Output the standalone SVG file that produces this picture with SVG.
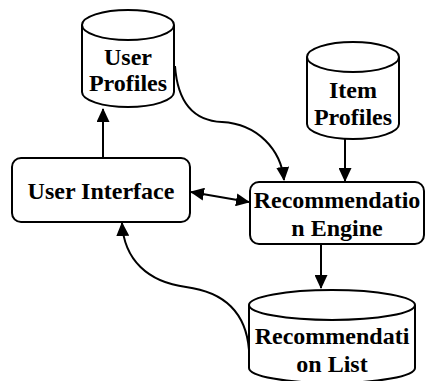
<svg xmlns="http://www.w3.org/2000/svg" width="426" height="381" viewBox="0 0 426 381">
  <style>
    .shape { fill: #ffffff; stroke: #000000; stroke-width: 2; }
    .edge { fill: none; stroke: #000000; stroke-width: 2; }
    .label { font-weight: 700; font-size: 24px; fill: #000000; text-anchor: middle; }
  </style>
  <defs>
    <marker id="arrow" viewBox="0 0 14 13" refX="13" refY="6.5" markerWidth="14" markerHeight="13" markerUnits="userSpaceOnUse" orient="auto-start-reverse">
      <path d="M0,0 L14,6.5 L0,13 Z" fill="#000000"/>
    </marker>
  </defs>
  <rect width="426" height="381" fill="#ffffff"/>

  <!-- connectors -->
  <g id="connectors">
    <path class="edge" d="M103,158 L103,109" marker-end="url(#arrow)"/>
    <path class="edge" d="M175,66 C178,108 198,121 222,122 C258,124 281,150 284,180" marker-end="url(#arrow)"/>
    <path class="edge" d="M345,139 L345,181" marker-end="url(#arrow)"/>
    <path class="edge" d="M191,192 L249,202" marker-start="url(#arrow)" marker-end="url(#arrow)"/>
    <path class="edge" d="M321,244 L321,288" marker-end="url(#arrow)"/>
    <path class="edge" d="M249,350 C246,312 224,292 186,287 C148,282 124,260 122,223" marker-end="url(#arrow)"/>
  </g>

  <g font-family="Liberation Serif, Times New Roman, serif">
  <!-- User Profiles (store) -->
  <g id="user-profiles">
    <path class="shape" d="M82,25 L82,92 A46,15 0 0 0 174,92 L174,25"/>
    <ellipse class="shape" cx="128" cy="25" rx="46" ry="15"/>
    <text class="label" x="128" y="65">User</text>
    <text class="label" x="128" y="91">Profiles</text>
  </g>

  <!-- Item Profiles (store) -->
  <g id="item-profiles">
    <path class="shape" d="M307,57 L307,124 A46,15 0 0 0 399,124 L399,57"/>
    <ellipse class="shape" cx="353" cy="57" rx="46" ry="15"/>
    <text class="label" x="353" y="98">Item</text>
    <text class="label" x="353" y="125">Profiles</text>
  </g>

  <!-- User Interface -->
  <g id="user-interface">
    <rect class="shape" x="12" y="158" width="178" height="64" rx="9" ry="9"/>
    <text class="label" x="101" y="199">User Interface</text>
  </g>

  <!-- Recommendation Engine -->
  <g id="recommendation-engine">
    <rect class="shape" x="250" y="182" width="174" height="62" rx="9" ry="9"/>
    <text class="label" x="337" y="208">Recommendatio</text>
    <text class="label" x="337" y="236">n Engine</text>
  </g>

  <!-- Recommendation List (store) -->
  <g id="recommendation-list">
    <path class="shape" d="M249,305 L249,368 A83,15 0 0 0 415,368 L415,305"/>
    <ellipse class="shape" cx="332" cy="305" rx="83" ry="15"/>
    <text class="label" x="332" y="344">Recommendati</text>
    <text class="label" x="332" y="372">on List</text>
  </g>
  </g>
</svg>
